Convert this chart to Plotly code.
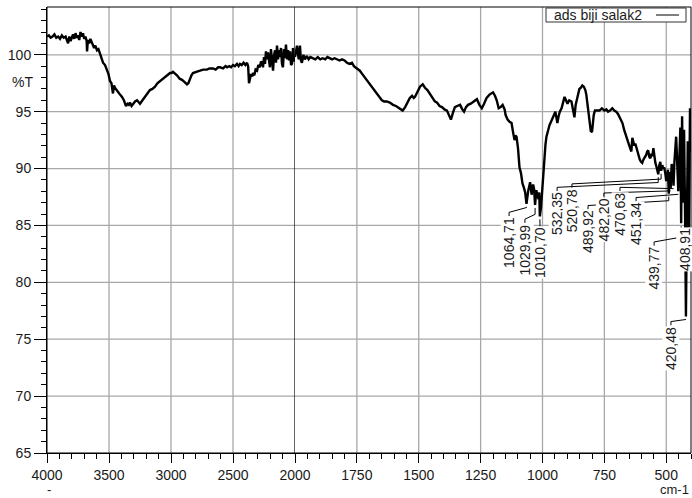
import numpy as np
import plotly.graph_objects as go

# FTIR spectrum: wavenumber (cm-1) and transmittance (%T)
wavenumber = [
    4000, 3985, 3970, 3955, 3940, 3925, 3910, 3895, 3880, 3865, 3850, 3840, 3830, 3820, 3810,
    3800, 3790, 3780, 3770, 3760, 3750, 3740, 3730, 3720, 3710, 3700, 3690, 3680, 3677, 3670,
    3660, 3650, 3640, 3630, 3620, 3610, 3597, 3585, 3573, 3560, 3548, 3532, 3516, 3504, 3492,
    3480, 3468, 3460, 3452, 3440, 3427, 3411, 3395, 3380, 3363, 3350, 3340, 3331, 3318, 3306,
    3290, 3274, 3262, 3250, 3230, 3210, 3190, 3170, 3150, 3129, 3110, 3089, 3070, 3048, 3030,
    3008, 2995, 2984, 2970, 2952, 2930, 2911, 2890, 2871, 2860, 2847, 2835, 2823, 2800, 2780,
    2766, 2740, 2710, 2690, 2661, 2640, 2620, 2605, 2580, 2560, 2548, 2530, 2515, 2500, 2485,
    2468, 2455, 2444, 2430, 2415, 2400, 2387, 2378, 2371, 2363, 2355, 2345, 2339, 2328, 2318,
    2306, 2296, 2284, 2274, 2266, 2258, 2250, 2242, 2234, 2226, 2218, 2210, 2202, 2194, 2186,
    2177, 2170, 2161, 2153, 2145, 2137, 2129, 2121, 2113, 2105, 2097, 2089, 2081, 2073, 2064,
    2056, 2048, 2040, 2032, 2024, 2016, 2008, 2000,
    1992, 1985, 1980, 1976, 1972, 1966, 1960, 1952, 1945, 1938, 1927, 1918, 1908, 1898, 1888,
    1878, 1869, 1859, 1850, 1840, 1830, 1820, 1810, 1800, 1790, 1780, 1770, 1762, 1750, 1738,
    1728, 1718, 1710, 1700, 1692, 1685, 1675, 1665, 1655, 1649, 1640, 1629, 1617, 1604, 1592,
    1580, 1565, 1555, 1543, 1536, 1527, 1520, 1515, 1505, 1495, 1484, 1475, 1465, 1455, 1445,
    1435, 1426, 1416, 1406, 1396, 1386, 1378, 1370, 1362, 1354, 1345, 1333, 1324, 1317, 1309,
    1301, 1290, 1278, 1265, 1255, 1245, 1236, 1226, 1214, 1200, 1192, 1185, 1177, 1169, 1161,
    1153, 1149, 1141, 1133, 1125, 1119, 1113, 1109, 1105, 1099, 1093, 1087, 1081, 1075, 1070,
    1064.71, 1058, 1050, 1044, 1038, 1034, 1029.99, 1025, 1020, 1016, 1013, 1010.70, 1006,
    1003, 1000, 996, 992, 988, 984, 978, 972, 966, 960, 954, 948, 944, 940, 935, 930, 923,
    917, 911, 905, 899, 892, 883, 877, 871, 866, 859, 851, 845, 839, 833, 827, 823, 818, 813,
    810, 805, 800, 797, 793, 788, 780, 770, 760, 750, 742, 735, 727, 718, 710, 702, 695, 690,
    684, 677, 670, 661, 655, 649, 645, 641, 637, 633, 629, 625, 621, 617, 612, 607, 602, 597,
    592, 587, 581, 577, 573, 568, 564, 560, 556, 552, 548, 544, 540, 536, 532.35, 528, 524,
    520.78, 516, 512, 508, 504, 500, 496, 493, 489.92, 486, 482.20, 478, 474, 470.63, 467,
    463, 460, 457, 454, 451.34, 447, 443, 439.77, 436, 432, 428, 424, 420.48, 418, 415, 413,
    411, 408.91, 406, 404, 402, 400,
]
transmittance = [
    101.6, 101.7, 101.5, 101.6, 101.8, 101.5, 101.6, 101.4, 101.7, 101.5, 101.6, 101.3, 101.0, 101.6, 101.2,
    101.5, 101.8, 101.4, 101.9, 101.5, 101.7, 101.3, 102.0, 101.6, 101.9, 101.4, 101.6, 101.2, 100.3, 101.3,
    101.0, 101.4, 101.1, 100.9, 100.6, 100.8, 100.4, 100.5, 100.1, 99.8, 99.3, 99.1, 98.6, 98.3, 97.7,
    97.5, 96.6, 97.3, 97.1, 96.9, 96.7, 96.5, 96.3, 96.0, 95.5, 95.7, 95.6, 95.8, 95.5, 95.7,
    95.9, 96.0, 95.8, 95.7, 96.0, 96.3, 96.6, 96.9, 97.0, 97.2, 97.5, 97.7, 97.9, 98.1, 98.2,
    98.4, 98.4, 98.5, 98.4, 98.2, 97.9, 97.8, 97.6, 97.4, 97.5, 97.9, 98.2, 98.4, 98.5, 98.6,
    98.6, 98.7, 98.7, 98.8, 98.8, 98.7, 98.9, 98.9, 98.8, 99.0, 98.9, 99.0, 98.9, 99.1, 99.0,
    99.2, 99.0, 99.2, 99.1, 99.3, 99.1, 99.3, 99.0, 97.5, 97.8, 98.3, 98.1, 98.4, 98.2, 98.7,
    98.6, 99.1, 98.9, 99.4, 99.3, 98.9, 99.8, 99.2, 100.3, 99.6, 100.2, 99.5, 98.9, 100.5, 99.4,
    98.6, 99.9, 100.4, 99.3, 100.8, 99.6, 100.4, 99.8, 100.6, 99.2, 98.9, 100.5, 99.7, 100.9, 99.6,
    100.4, 99.5, 100.3, 99.1, 99.2, 100.6, 99.4, 99.8,
    100.8, 99.6, 100.8, 99.5, 99.3, 100.0, 99.6, 99.9, 99.6, 99.8, 99.7, 99.6, 99.8, 99.6, 99.7,
    99.6, 99.8, 99.7, 99.6, 99.7, 99.6, 99.5, 99.6, 99.5, 99.3, 99.2, 99.3, 99.0, 98.8, 98.6,
    98.3, 98.0, 97.8, 97.5, 97.3, 97.1, 96.8, 96.5, 96.2, 96.0, 95.9, 95.9, 95.8, 95.6, 95.5,
    95.3, 95.1, 95.4, 96.0, 96.2, 96.4, 96.2, 96.3, 96.8, 97.2, 97.4, 97.1, 96.9, 96.6, 96.2,
    95.9, 95.8, 95.5, 95.4, 95.2, 95.1, 94.6, 94.3, 94.9, 95.4, 95.5, 95.6, 95.2, 95.0, 95.4,
    95.6, 95.7, 95.9, 96.1, 95.6, 95.3, 95.7, 96.2, 96.5, 96.7, 96.4, 96.0, 95.3, 95.4, 95.6,
    95.2, 94.7, 94.3, 94.1, 94.0, 93.2, 92.5, 92.9, 92.8, 91.8, 90.1, 89.6, 88.7, 88.3, 87.9,
    86.9, 88.0, 88.8, 87.7, 88.6, 88.2, 86.8, 88.1, 87.6, 87.3, 87.9, 85.8, 86.6,
    87.5, 88.9, 90.4, 91.3, 92.1, 92.8, 93.4, 93.8, 94.1, 94.4, 94.7, 95.0, 94.5, 94.0, 94.6, 95.0, 95.3,
    95.8, 96.3, 96.0, 95.7, 96.0, 95.9, 95.2, 94.5, 95.6, 96.4, 97.0, 97.1, 97.3, 97.2, 96.9, 96.5, 95.6, 94.6,
    94.1, 93.3, 93.2, 93.9, 94.7, 95.1, 95.1, 95.1, 95.3, 95.1, 95.2, 95.0, 95.1, 95.3, 95.1, 95.0, 94.8, 94.6,
    94.3, 94.0, 93.4, 92.9, 92.4, 92.0, 91.6, 91.5, 92.7, 92.3, 92.0, 92.2, 91.9, 91.6, 91.1, 90.8, 90.6, 90.5,
    90.8, 91.0, 91.2, 91.5, 91.6, 91.0, 90.9, 91.3, 91.1, 91.8, 91.0, 90.5, 90.2, 89.9, 89.5, 90.3, 90.6,
    89.8, 90.3, 90.0, 90.1, 89.6, 88.9, 89.4, 89.9, 87.8, 89.7, 88.3, 90.4, 89.9, 88.5, 90.6,
    92.4, 92.8, 91.2, 89.6, 88.0, 91.0, 93.6, 85.2, 94.6, 87.0, 93.4, 86.0, 77.0, 82.6, 88.5, 92.4,
    89.0, 84.8, 90.5, 95.3, 91.5, 93.0,
]

# Peak labels: text, peak position, label centre (cm-1) and label top (%T)
peak_text = ["1064,71", "1029,99", "1010,70", "532,35", "520,78", "489,92",
             "482,20", "470,63", "451,34", "439,77", "408,91", "420,48"]
peak_wn = [1064.71, 1029.99, 1010.70, 532.35, 520.78, 489.92,
           482.20, 470.63, 451.34, 439.77, 408.91, 420.48]
label_wn = [1135, 1071, 1010, 941, 881, 816, 752, 687, 622, 549, 425, 481]
label_top = [85.8, 85.2, 84.9, 88.0, 88.3, 86.4, 87.5, 88.0, 87.1, 83.2, 84.9, 76.2]

series_name = "ads biji salak2"
x_major_hi = [4000, 3500, 3000, 2500, 2000]
x_major_lo = [1750, 1500, 1250, 1000, 750, 500]
y_major = [65, 70, 75, 80, 85, 90, 95, 100]

# ---- layout geometry (pixels) ----
W, H = 692, 498
ML, MR, MT, MB = 47, 1, 7, 45
PW, PH = W - ML - MR, H - MT - MB
SPLIT = 248 / PW            # 4000-2000 half-scale section width
YMIN, YMAX = 65, 104.2
PX_PER_T = PH / (YMAX - YMIN)

FONT = "Liberation Sans, Arial, sans-serif"
TXT = "#1a1a1a"
GRID = "#a8a8a8"


def px_x(px):
    return (px - ML) / PW


def px_y(py):
    return (H - MB - py) / PH


wn = np.array(wavenumber, dtype=float)
tr = np.array(transmittance, dtype=float)
hi = wn >= 2000
lo = wn <= 2000

fig = go.Figure()
line = dict(color="black", width=2.4)
fig.add_trace(go.Scatter(x=wn[hi], y=tr[hi], mode="lines", line=line,
                         xaxis="x", yaxis="y", showlegend=False, hoverinfo="skip"))
fig.add_trace(go.Scatter(x=wn[lo], y=tr[lo], mode="lines", line=line,
                         xaxis="x2", yaxis="y", showlegend=False, hoverinfo="skip"))

# leader lines from each label up to its peak
order = np.argsort(wn)
t_stub = 4 / PX_PER_T
for txt, pk, lw, top in zip(peak_text, peak_wn, label_wn, label_top):
    pk_t = float(np.interp(pk, wn[order], tr[order]))
    end_t = pk_t - 3 / PX_PER_T
    elbow_t = min(top + 2.2 * t_stub, end_t) if end_t > top else top + t_stub
    xs = [lw, lw, pk, pk]
    ys = [top + 0.3 / PX_PER_T, top + t_stub, elbow_t, max(end_t, elbow_t)]
    fig.add_trace(go.Scatter(x=xs, y=ys, mode="lines", line=dict(color="black", width=1),
                             xaxis="x2", yaxis="y", showlegend=False, hoverinfo="skip"))
    fig.add_annotation(x=lw, y=top, xref="x2", yref="y", text=txt, textangle=-90,
                       showarrow=False, xanchor="center", yanchor="top",
                       bgcolor="white", borderpad=0,
                       font=dict(family=FONT, size=14, color=TXT))

axis_common = dict(
    showline=True, linecolor="black", linewidth=1,
    ticks="outside", tickcolor="black", tickwidth=1, ticklen=9,
    showgrid=False, zeroline=False, automargin=False,
    tickfont=dict(family=FONT, size=14, color=TXT),
)
fig.update_layout(
    width=W, height=H, autosize=False,
    margin=dict(l=ML, r=MR, t=MT, b=MB, pad=0, autoexpand=False),
    paper_bgcolor="white", plot_bgcolor="rgba(0,0,0,0)",
    xaxis=dict(domain=[0, SPLIT], range=[4000, 2000], anchor="y",
               tickmode="array", tickvals=x_major_hi, ticktext=[str(v) for v in x_major_hi],
               minor=dict(ticks="outside", ticklen=5, tickcolor="black", dtick=100, tick0=0,
                          showgrid=False),
               **axis_common),
    xaxis2=dict(domain=[SPLIT, 1], range=[2000, 400], anchor="y",
                tickmode="array", tickvals=x_major_lo, ticktext=[str(v) for v in x_major_lo],
                minor=dict(ticks="outside", ticklen=5, tickcolor="black", dtick=50, tick0=0,
                           showgrid=False),
                **axis_common),
    yaxis=dict(range=[YMIN, YMAX], anchor="x",
               tickmode="array", tickvals=y_major, ticktext=[str(v) for v in y_major],
               minor=dict(ticks="outside", ticklen=5, tickcolor="black", dtick=1, tick0=0,
                          showgrid=False),
               **{**axis_common, "ticklen": 12}),
)

grid = dict(color=GRID, width=1.3)
shapes = []
# vertical grid lines
for v in x_major_hi[1:-1]:
    shapes.append(dict(type="line", xref="x", yref="y", x0=v, x1=v, y0=YMIN, y1=YMAX,
                       line=grid, layer="below"))
for v in x_major_lo:
    shapes.append(dict(type="line", xref="x2", yref="y", x0=v, x1=v, y0=YMIN, y1=YMAX,
                       line=grid, layer="below"))
# horizontal grid lines across both sections
for v in y_major[1:]:
    shapes.append(dict(type="line", xref="x", yref="y", x0=4000, x1=2000, y0=v, y1=v,
                       line=grid, layer="below"))
    shapes.append(dict(type="line", xref="x2", yref="y", x0=2000, x1=400, y0=v, y1=v,
                       line=grid, layer="below"))
shapes += [
    # scale change at 2000 cm-1
    dict(type="line", xref="x", yref="y", x0=2000, x1=2000, y0=YMIN, y1=YMAX,
         line=dict(color="black", width=1.2), layer="below"),
    # frame
    dict(type="rect", xref="paper", yref="paper", x0=0, x1=1, y0=0, y1=1,
         line=dict(color="black", width=1), layer="above"),
    # legend box and line sample
    dict(type="rect", xref="paper", yref="paper", x0=px_x(546), x1=px_x(686),
         y0=px_y(22), y1=px_y(8), line=dict(color="#333333", width=1),
         fillcolor="white", layer="above"),
    dict(type="line", xref="paper", yref="paper", x0=px_x(656), x1=px_x(679),
         y0=px_y(15), y1=px_y(15), line=dict(color="black", width=1), layer="above"),
]
fig.update_layout(shapes=shapes)

fig.add_annotation(x=px_x(552), y=px_y(15), xref="paper", yref="paper", text=series_name,
                   showarrow=False, xanchor="left", yanchor="middle",
                   font=dict(family=FONT, size=14, color=TXT))
fig.add_annotation(x=px_x(22), y=px_y(82), xref="paper", yref="paper", text="%T",
                   showarrow=False, xanchor="center", yanchor="middle",
                   font=dict(family=FONT, size=14, color=TXT))
fig.add_annotation(x=px_x(690), y=px_y(498), xref="paper", yref="paper", text="cm-1",
                   showarrow=False, xanchor="right", yanchor="bottom", borderpad=0,
                   font=dict(family=FONT, size=13, color=TXT))
fig.add_annotation(x=px_x(49), y=px_y(498), xref="paper", yref="paper", text="-",
                   showarrow=False, xanchor="center", yanchor="bottom", borderpad=0,
                   font=dict(family=FONT, size=13, color=TXT))

fig.write_html("out.html")
